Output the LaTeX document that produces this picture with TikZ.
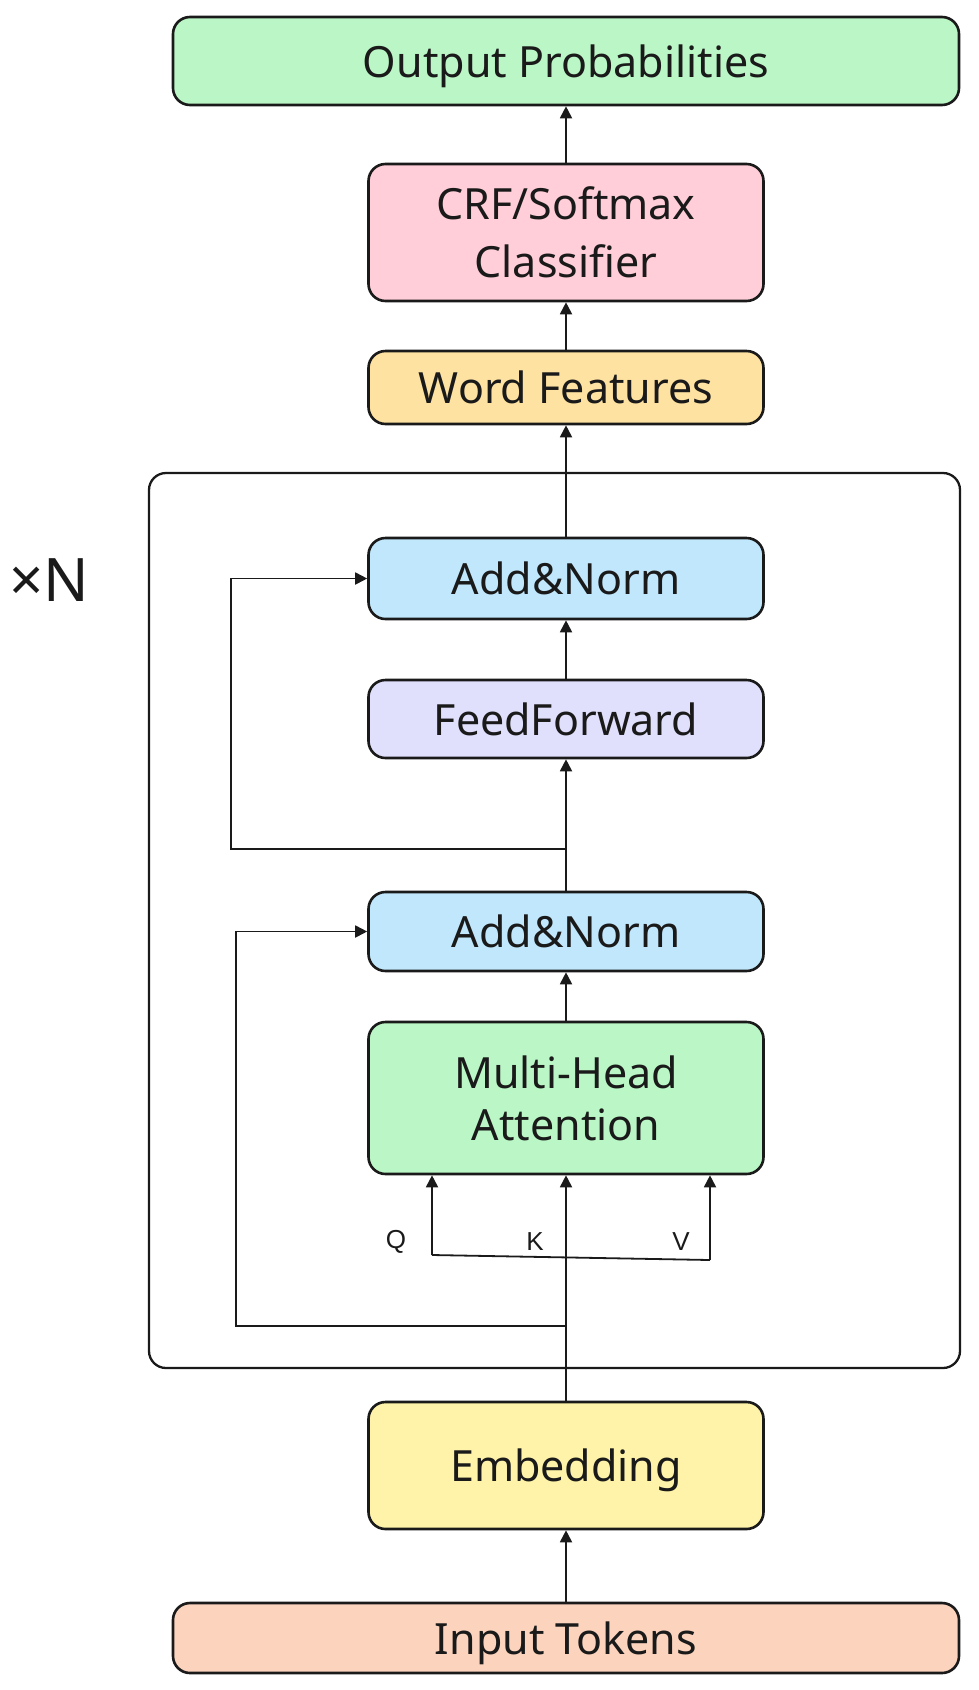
\documentclass[tikz,border=0pt]{standalone}
\usepackage{fontspec}
\setmainfont{Noto Sans}
\newfontfamily\labfont{Liberation Sans}
\usetikzlibrary{arrows.meta}
\definecolor{cgreen}{HTML}{BBF7C6}
\definecolor{cpink}{HTML}{FFCED8}
\definecolor{corange}{HTML}{FEE2A1}
\definecolor{cblue}{HTML}{C0E7FC}
\definecolor{clav}{HTML}{E0E0FC}
\definecolor{cyellow}{HTML}{FEF3A8}
\definecolor{cpeach}{HTML}{FCD4BE}
\definecolor{cline}{HTML}{1A1A1A}
\tikzset{
  box/.style={draw=cline, line width=2.6pt, rounded corners=17pt, minimum width=395pt,
    align=center, font=\fontsize{43}{58}\selectfont, text=cline, inner sep=0pt},
  widebox/.style={box, minimum width=786pt},
  nodepth/.style={text depth=0pt},
  conn/.style={draw=cline, line width=1.8pt, -{Triangle[length=12pt,width=12pt]}},
  plain/.style={draw=cline, line width=1.8pt},
  qkv/.style={font=\labfont\fontsize{26}{30}\selectfont, text=cline, inner sep=0pt}
}
\begin{document}
\begin{tikzpicture}[x=1pt,y=-1pt]
\useasboundingbox (0,0) rectangle (978,1690);
% container
\node[draw=cline, line width=2.3pt, rounded corners=17pt, minimum width=811pt, minimum height=895pt, inner sep=0pt] (cont) at (554.5,920.5) {};
\node[font=\fontsize{60}{64}\selectfont, text=cline, inner sep=0pt] (xn) at (49,580) {×N};
% boxes
\node[widebox, nodepth, fill=cgreen, minimum height=88pt] (out) at (566,61) {Output Probabilities};
\node[box, fill=cpink, minimum height=137pt] (crf) at (566,232.5) {CRF/Softmax\\Classifier};
\node[box, fill=corange, minimum height=73pt] (word) at (566,387.5) {Word Features};
\node[box, fill=cblue, minimum height=81pt] (an1) at (566,578.5) {Add\&Norm};
\node[box, fill=clav, minimum height=78pt] (ff) at (566,719) {FeedForward};
\node[box, fill=cblue, minimum height=79pt] (an2) at (566,931.5) {Add\&Norm};
\node[box, fill=cgreen, minimum height=152pt, font=\fontsize{43}{52}\selectfont] (mha) at (566,1098) {Multi-Head\\Attention};
\node[box, nodepth, fill=cyellow, minimum height=127pt] (emb) at (566,1465.5) {Embedding};
\node[widebox, nodepth, fill=cpeach, minimum height=70pt] (inp) at (566,1638) {Input Tokens};
% junction coordinates
\coordinate (j1) at (566,849);
\coordinate (s1) at (231,849);
\coordinate (t1) at (231,578.5);
\coordinate (j2) at (566,1326);
\coordinate (s2) at (236,1326);
\coordinate (t2) at (236,931.5);
\coordinate (q0) at (432,1255);
\coordinate (v0) at (710,1260);
% connectors
\draw[conn] (inp.north) -- (emb.south);
\draw[conn] (emb.north) -- (mha.south);
\draw[conn] (q0) -- (q0 |- mha.south);
\draw[conn] (v0) -- (v0 |- mha.south);
\draw[plain] (q0) -- (v0);
\draw[conn] (mha.north) -- (an2.south);
\draw[conn] (j2) -- (s2) -- (t2) -- (an2.west);
\draw[conn] (an2.north) -- (ff.south);
\draw[conn] (j1) -- (s1) -- (t1) -- (an1.west);
\draw[conn] (ff.north) -- (an1.south);
\draw[conn] (an1.north) -- (word.south);
\draw[conn] (word.north) -- (crf.south);
\draw[conn] (crf.north) -- (out.south);
% labels
\node[qkv] (ql) at (396,1242) {Q};
\node[qkv] (kl) at (535,1242) {K};
\node[qkv] (vl) at (681,1242) {V};
\end{tikzpicture}
\end{document}
